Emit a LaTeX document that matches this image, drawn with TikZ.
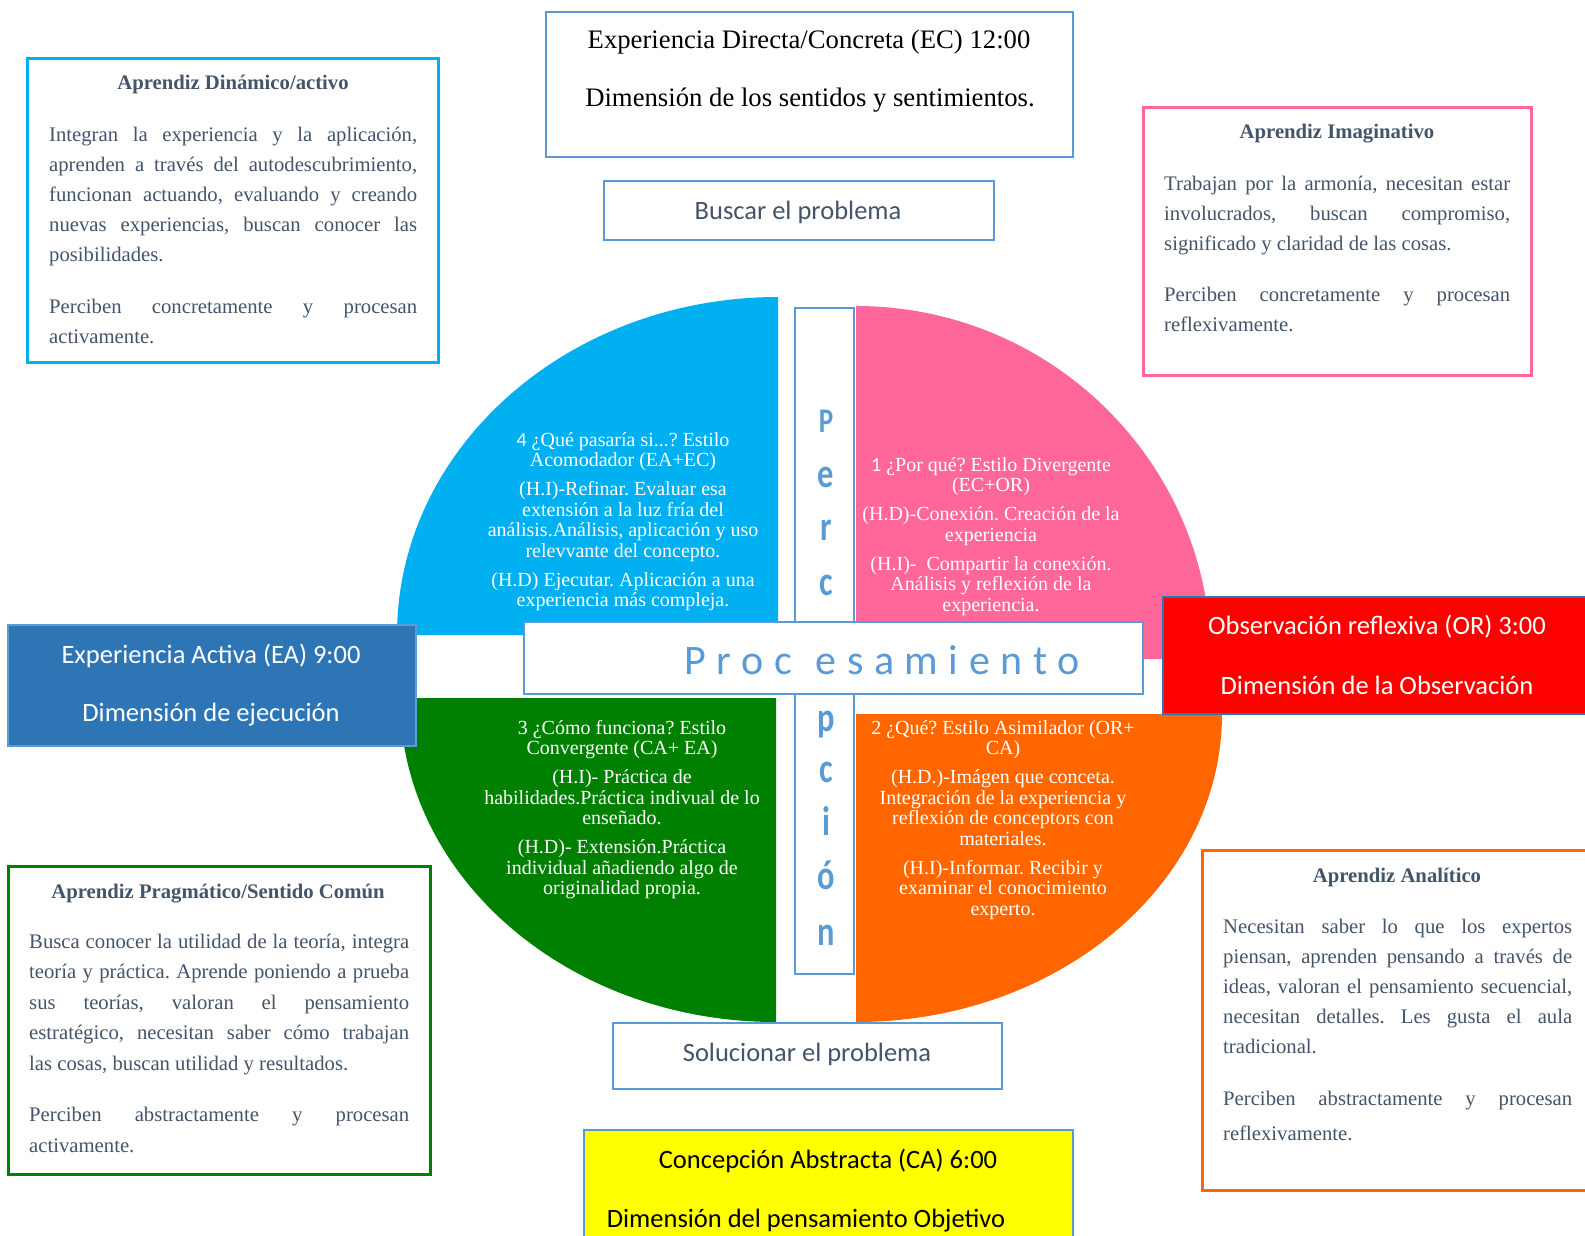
\documentclass[tikz,border=0pt]{standalone}
\usepackage{fontspec}
\setmainfont{Liberation Serif}
\newfontfamily\calfont{Carlito}
\setlength{\parindent}{0pt}
\frenchspacing
\definecolor{cyanB}{HTML}{00B0F0}
\definecolor{pinkB}{HTML}{FF6699}
\definecolor{greenB}{HTML}{008000}
\definecolor{orangeB}{HTML}{FF6600}
\definecolor{lblue}{HTML}{5B9BD5}
\definecolor{dblue}{HTML}{2E75B6}
\definecolor{slate}{HTML}{44546A}
\definecolor{yel}{HTML}{FFFF00}
\definecolor{redB}{HTML}{FF0000}
\begin{document}
\begin{tikzpicture}[x=1pt,y=-1pt,
  boxframe/.style={draw=#1, line width=2.5pt, fill=white, inner sep=0pt, outer sep=0pt},
  sanstxt/.style={font=\calfont\fontsize{26.5}{32}\selectfont, inner sep=0pt},
  serifline/.style={font=\fontsize{26.7}{32}\selectfont, inner sep=0pt},
  bodytxt/.style={font=\fontsize{20.7}{30}\selectfont, text=slate, align=justify, inner sep=0pt, anchor=north west},
  ttl/.style={font=\bfseries\fontsize{20.7}{25}\selectfont, text=slate, inner sep=0pt},
  quadtxt/.style={font=\fontsize{20}{20.5}\selectfont, text=white, align=center, inner sep=0pt, anchor=north},
  plet/.style={font=\calfont\bfseries\fontsize{36}{40}\selectfont, text=lblue, inner sep=0pt, anchor=base},
]
\useasboundingbox (0,0) rectangle (1585,1235);

% quadrants
\fill[cyanB] (778,635) -- (397,635) arc[start angle=180, end angle=270, x radius=381, y radius=338] -- cycle;
\fill[pinkB] (856,659) -- (856,306) arc[start angle=270, end angle=360, x radius=355, y radius=353] -- cycle;
\fill[greenB] (776,698) -- (400,698) arc[start angle=180, end angle=90, x radius=376, y radius=324] -- cycle;
\fill[orangeB] (856,714) -- (1222,714) arc[start angle=0, end angle=90, x radius=366, y radius=308] -- cycle;

\node[quadtxt] (q4) at (623,432) {{\calfont 4} ¿Qué pasaría si...? Estilo\\Acomodador (EA+EC)\\[8.5pt](H.I)-Refinar. Evaluar esa\\extensión a la luz fría del\\análisis.Análisis, aplicación y uso\\relevvante del concepto.\\[8.5pt](H.D) Ejecutar. Aplicación a una\\experiencia más compleja.};
\node[quadtxt] (q1) at (991,457) {{\calfont 1} ¿Por qué? Estilo Divergente\\(EC+OR)\\[8.5pt](H.D)-Conexión. Creación de la\\experiencia\\[8.5pt](H.I)-\ \ Compartir la conexión.\\Análisis y reflexión de la\\experiencia.};
\node[quadtxt] (q3) at (622,720) {3 ¿Cómo funciona? Estilo\\Convergente (CA+ EA)\\[8.5pt](H.I)- Práctica de\\habilidades.Práctica indivual de lo\\enseñado.\\[8.5pt](H.D)- Extensión.Práctica\\individual añadiendo algo de\\originalidad propia.};
\node[quadtxt] (q2) at (1003,720) {2 ¿Qué? Estilo Asimilador (OR+\\CA)\\[8.5pt](H.D.)-Imágen que conceta.\\Integración de la experiencia y\\reflexión de conceptors con\\materiales.\\[8.5pt](H.I)-Informar. Recibir y\\examinar el conocimiento\\experto.};

% Percepcion
\node[boxframe=lblue, minimum width=59, minimum height=666] (perc) at (824.5,641) {};
\node[plet, font=\calfont\bfseries\fontsize{30}{34}\selectfont] (l1) at (826,432) {\scalebox{0.9}[1.15]{P}};
\node[plet] (l2) at (826,487) {\scalebox{0.9}[1.15]{e}};
\node[plet] (l3) at (826,540) {\scalebox{0.9}[1.15]{r}};
\node[plet] (l4) at (826,595) {\scalebox{0.9}[1.15]{c}};
\node[plet] (l5) at (826,731) {\scalebox{0.9}[1.15]{p}};
\node[plet] (l6) at (826,782) {\scalebox{0.9}[1.15]{c}};
\node[plet] (l7) at (826,835) {\scalebox{0.9}[1.15]{i}};
\node[plet] (l8) at (826,889) {\scalebox{0.9}[1.15]{ó}};
\node[plet] (l9) at (826,945) {\scalebox{0.9}[1.15]{n}};

% Procesamiento
\node[boxframe=lblue, minimum width=619, minimum height=72] (proc) at (833.5,658) {};
\node[font=\calfont\fontsize{42}{48}\selectfont, text=lblue, inner sep=0pt, anchor=base] (proct) at (882,674)
 {P\hspace{10.5pt}r\hspace{10.5pt}o\hspace{10.5pt}c\hspace{24pt}e\hspace{10.5pt}s\hspace{10.5pt}a\hspace{10.5pt}m\hspace{10.5pt}i\hspace{10.5pt}e\hspace{10.5pt}n\hspace{10.5pt}t\hspace{10.5pt}o};

% top boxes
\node[boxframe=lblue, minimum width=527, minimum height=145] (ec) at (809.5,84.5) {};
\node[serifline] (ec1) at (809,42) {Experiencia Directa/Concreta (EC) 12:00};
\node[serifline] (ec2) at (810,100.5) {Dimensión de los sentidos y sentimientos.};
\node[boxframe=lblue, minimum width=390, minimum height=59] (bus) at (799,210.5) {};
\node[sanstxt, text=slate] (bust) at (798,212) {Buscar el problema};

% EA
\node[boxframe=lblue, fill=dblue, minimum width=408, minimum height=121] (ea) at (212,685.5) {};
\node[sanstxt, text=white] (ea1) at (211,656) {Experiencia Activa (EA) 9:00};
\node[sanstxt, text=white] (ea2) at (211,715) {Dimensión de ejecución};

% OR
\node[boxframe=dblue, fill=redB, minimum width=429, minimum height=117] (or) at (1377.5,655.5) {};
\node[sanstxt, text=white] (or1) at (1377,627) {Observación reflexiva (OR) 3:00};
\node[sanstxt, text=white] (or2) at (1377,685) {Dimensión de la Observación};

% bottom boxes
\node[boxframe=lblue, minimum width=389, minimum height=66] (sol) at (807.5,1056) {};
\node[sanstxt, text=slate] (solt) at (807,1054) {Solucionar el problema};
\node[boxframe=lblue, fill=yel, minimum width=489, minimum height=120] (ca) at (828.5,1190) {};
\node[sanstxt] (ca1) at (828,1161) {Concepción Abstracta (CA) 6:00};
\node[sanstxt] (ca2) at (806,1221) {Dimensión del pensamiento Objetivo};

% learner boxes
\node[boxframe=cyanB, line width=3pt, minimum width=411, minimum height=304] (dyn) at (232.5,210) {};
\node[ttl] (dynt) at (233,85) {Aprendiz Dinámico/activo};
\node[bodytxt, text width=368] (dynb) at (49,126.5) {Integran la experiencia y la aplicación,\linebreak aprenden a través del autodescubrimiento,\linebreak funcionan actuando, evaluando y creando\linebreak nuevas experiencias, buscan conocer las\linebreak posibilidades.\par\vspace{22pt}Perciben concretamente y procesan\linebreak activamente.};

\node[boxframe=pinkB, line width=3pt, minimum width=388, minimum height=268] (ima) at (1337,241) {};
\node[ttl] (imat) at (1337,134) {Aprendiz Imaginativo};
\node[bodytxt, text width=346] (imab) at (1164,175.5) {Trabajan por la armonía, necesitan estar\linebreak involucrados, buscan compromiso,\linebreak significado y claridad de las cosas.\par\vspace{21pt}Perciben concretamente y procesan\linebreak reflexivamente.};

\node[boxframe=greenB, line width=3pt, minimum width=422, minimum height=308] (pra) at (219,1020) {};
\node[ttl] (prat) at (218,893.5) {Aprendiz Pragmático/Sentido Común};
\node[bodytxt, text width=380, font=\fontsize{20.7}{30.5}\selectfont] (prab) at (29,933.5) {Busca conocer la utilidad de la teoría, integra\linebreak teoría y práctica. Aprende poniendo a prueba\linebreak sus teorías, valoran el pensamiento\linebreak estratégico, necesitan saber cómo trabajan\linebreak las cosas, buscan utilidad y resultados.\par\vspace{21pt}Perciben abstractamente y procesan\linebreak activamente.};

\node[boxframe=orangeB, line width=3pt, minimum width=390, minimum height=340] (ana) at (1397,1020) {};
\node[ttl] (anat) at (1397,877) {Aprendiz Analítico};
\node[bodytxt, text width=349] (anab) at (1223,918.5) {Necesitan saber lo que los expertos\linebreak piensan, aprenden pensando a través de\linebreak ideas, valoran el pensamiento secuencial,\linebreak necesitan detalles. Les gusta el aula\linebreak tradicional.\par\vspace{22pt}Perciben abstractamente y procesan\vadjust{\vskip5pt}\linebreak reflexivamente.};
\end{tikzpicture}
\end{document}
